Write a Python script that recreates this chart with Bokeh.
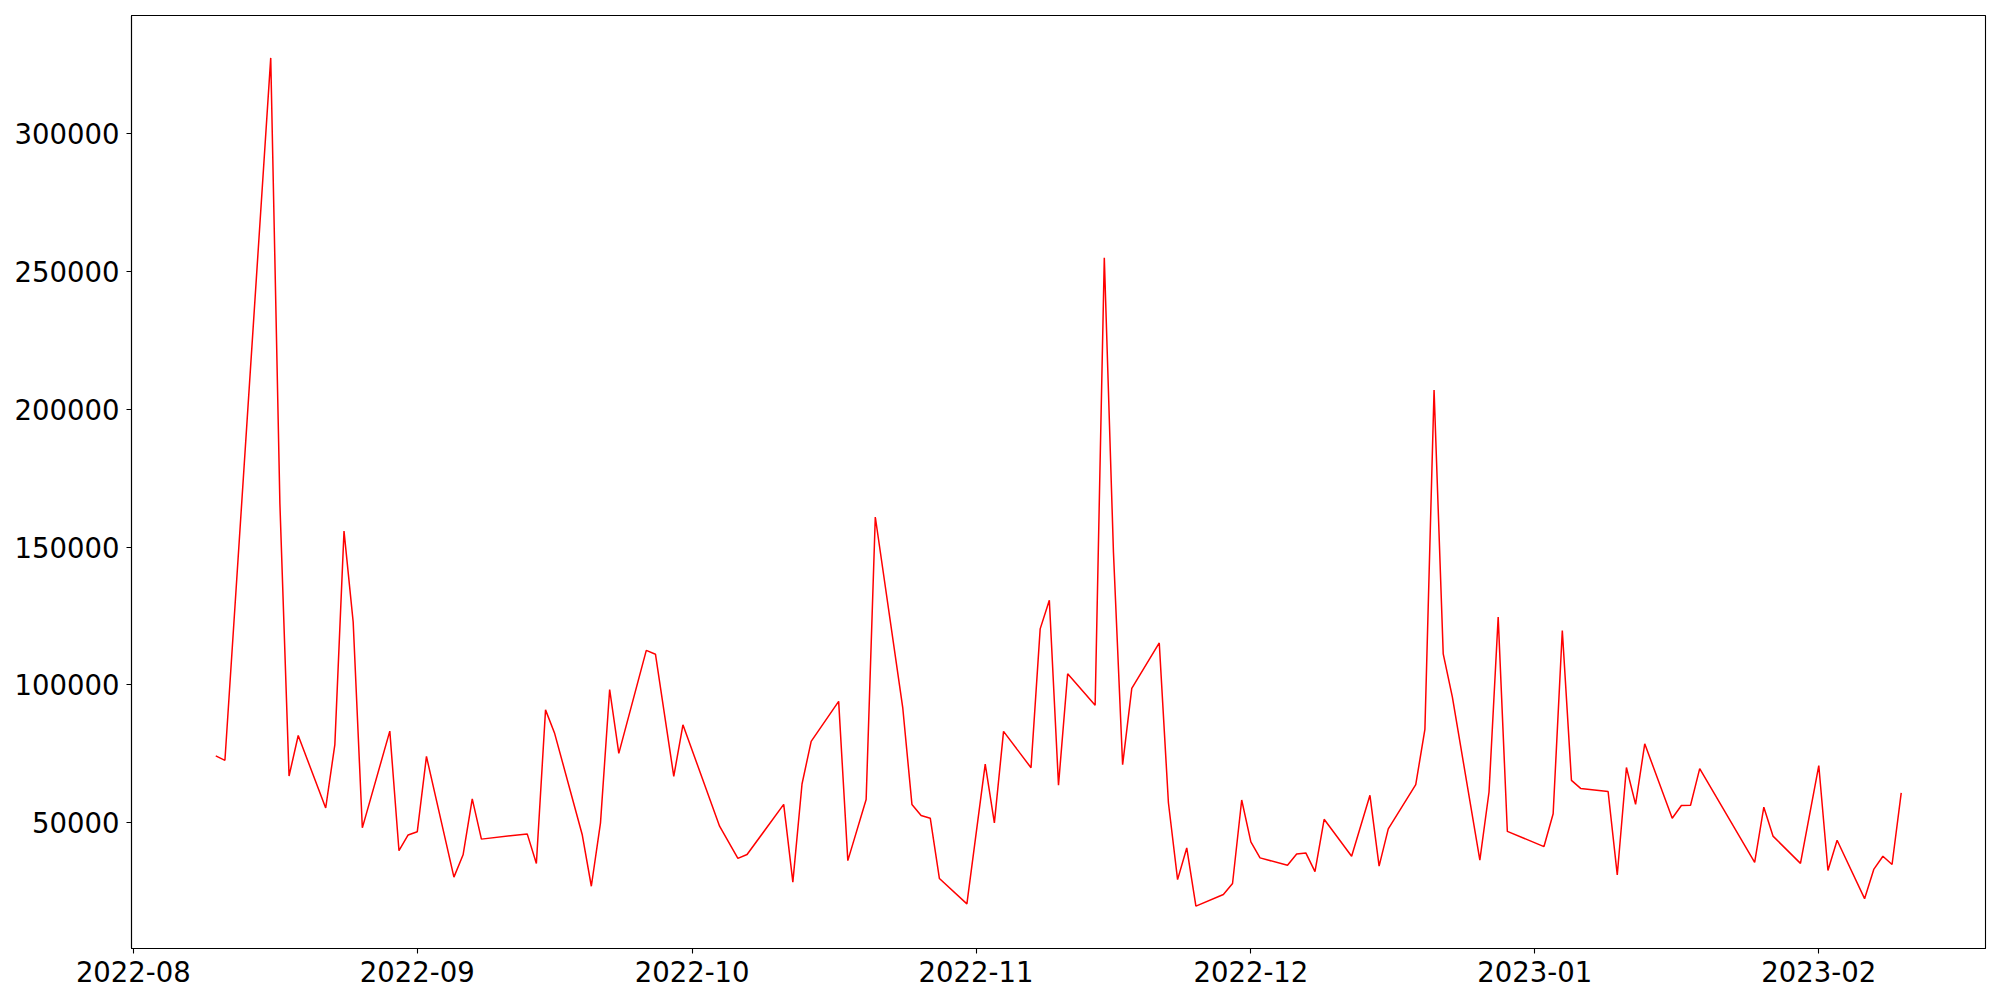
import pandas as pd
from bokeh.plotting import figure
from bokeh.models import Range1d, FixedTicker, MonthsTicker, DatetimeTickFormatter, NumeralTickFormatter
from bokeh.embed import file_html
from bokeh.resources import INLINE

dates = [
    "2022-08-10", "2022-08-11", "2022-08-16", "2022-08-17", "2022-08-18", "2022-08-19",
    "2022-08-22", "2022-08-23", "2022-08-24", "2022-08-25", "2022-08-26",
    "2022-08-29", "2022-08-30", "2022-08-31", "2022-09-01", "2022-09-02",
    "2022-09-05", "2022-09-06", "2022-09-07", "2022-09-08",
    "2022-09-13", "2022-09-14", "2022-09-15", "2022-09-16",
    "2022-09-19", "2022-09-20", "2022-09-21", "2022-09-22", "2022-09-23",
    "2022-09-26", "2022-09-27", "2022-09-29", "2022-09-30",
    "2022-10-04", "2022-10-06", "2022-10-07",
    "2022-10-11", "2022-10-12", "2022-10-13", "2022-10-14",
    "2022-10-17", "2022-10-18", "2022-10-20", "2022-10-21",
    "2022-10-24", "2022-10-25", "2022-10-26", "2022-10-27", "2022-10-28",
    "2022-10-31", "2022-11-02", "2022-11-03", "2022-11-04",
    "2022-11-07", "2022-11-08", "2022-11-09", "2022-11-10", "2022-11-11",
    "2022-11-14", "2022-11-15", "2022-11-16", "2022-11-17", "2022-11-18",
    "2022-11-21", "2022-11-22", "2022-11-23", "2022-11-24", "2022-11-25",
    "2022-11-28", "2022-11-29", "2022-11-30", "2022-12-01", "2022-12-02",
    "2022-12-05", "2022-12-06", "2022-12-07", "2022-12-08", "2022-12-09",
    "2022-12-12", "2022-12-14", "2022-12-15", "2022-12-16",
    "2022-12-19", "2022-12-20", "2022-12-21", "2022-12-22", "2022-12-23",
    "2022-12-26", "2022-12-27", "2022-12-28", "2022-12-29",
    "2023-01-02", "2023-01-03", "2023-01-04", "2023-01-05", "2023-01-06",
    "2023-01-09", "2023-01-10", "2023-01-11", "2023-01-12", "2023-01-13",
    "2023-01-16", "2023-01-17", "2023-01-18", "2023-01-19",
    "2023-01-25", "2023-01-26", "2023-01-27", "2023-01-30",
    "2023-02-01", "2023-02-02", "2023-02-03",
    "2023-02-06", "2023-02-07", "2023-02-08", "2023-02-09", "2023-02-10",
]

values = [
    74200, 72600, 327500, 165800, 66900, 81600,
    55300, 78300, 155800, 122800, 48100,
    83200, 39800, 45500, 46700, 74000,
    30200, 38300, 58600, 44000,
    45900, 35150, 90900, 82300,
    45700, 26900, 49900, 98300, 75100,
    112500, 111100, 66800, 85500,
    48700, 37000, 38400,
    56600, 28400, 64000, 79500,
    94000, 36200, 58400, 160900,
    91600, 56600, 52600, 51600, 29700,
    20500, 71200, 49900, 83100,
    69900, 120300, 130700, 63600, 104000,
    92600, 255000, 148000, 71000, 98700,
    115200, 57200, 29300, 40800, 19700,
    23900, 27900, 58200, 43000, 37200,
    34500, 38600, 39000, 32200, 51200,
    37800, 59900, 34200, 47700,
    63800, 83800, 207000, 111200, 95500,
    36400, 61100, 124600, 46800,
    41300, 53200, 119700, 65300, 62400,
    61300, 31000, 70000, 56600, 78600,
    51600, 56200, 56300, 69600,
    35600, 55600, 45100, 35200,
    70700, 32600, 43600,
    22400, 33000, 37800, 34800, 60800,
]

y_ticks = [50000, 100000, 150000, 200000, 250000, 300000]

x = pd.to_datetime(dates)
xmin, xmax = x.min(), x.max()
xpad = (xmax - xmin) * 0.05
ymin, ymax = min(values), max(values)
ypad = (ymax - ymin) * 0.05

p = figure(
    width=2000, height=1000,
    x_axis_type="datetime",
    output_backend="svg", toolbar_location=None,
    x_range=Range1d(xmin - xpad, xmax + xpad),
    y_range=Range1d(ymin - ypad, ymax + ypad),
    min_border_left=131, min_border_right=15, min_border_top=15, min_border_bottom=52,
)
p.background_fill_color = "white"
p.border_fill_color = "white"
p.outline_line_color = "black"
p.outline_line_width = 1.1
p.grid.visible = False

p.line(x, values, line_color="#ff0000", line_width=1.5)

p.xaxis.ticker = MonthsTicker(months=list(range(1, 13)))
fmt = "%Y-%m"
p.xaxis.formatter = DatetimeTickFormatter(
    years=fmt, months=fmt, days=fmt, hours=fmt, minutes=fmt, seconds=fmt,
    milliseconds=fmt, microseconds=fmt, hourmin=fmt, minsec=fmt,
)
p.yaxis.ticker = FixedTicker(ticks=y_ticks)
p.yaxis.formatter = NumeralTickFormatter(format="0")

for ax in (p.xaxis[0], p.yaxis[0]):
    ax.axis_line_color = "black"
    ax.axis_line_width = 1.1
    ax.major_tick_line_color = "black"
    ax.major_tick_line_width = 1.1
    ax.major_tick_out = 5
    ax.major_tick_in = 0
    ax.minor_tick_line_color = None
    ax.major_label_text_font = "DejaVu Sans"
    ax.major_label_text_font_size = "27.5px"
    ax.major_label_text_color = "black"
p.xaxis.major_label_standoff = 7
p.yaxis.major_label_standoff = 7

open("out.html", "w").write(file_html(p, INLINE))
